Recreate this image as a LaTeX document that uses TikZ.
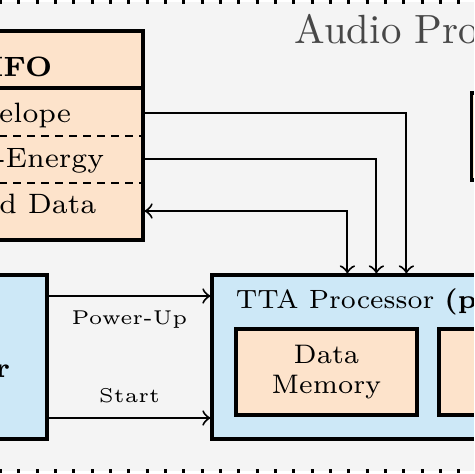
\documentclass[tikz,border=0pt]{standalone}
\usepackage{tikz}
\usepackage{xcolor}

\definecolor{peach}{HTML}{FDE3CB}
\definecolor{paleblue}{HTML}{CDE8F7}
\definecolor{panelgrey}{HTML}{F4F4F4}
\definecolor{titlegrey}{HTML}{474747}

\begin{document}
\begin{tikzpicture}[x=0.25pt,y=-0.25pt,
  blk/.style={draw,thick,inner sep=0pt},
  memblk/.style={blk,fill=peach},
  cpublk/.style={blk,fill=paleblue},
  sig/.style={line width=0.5pt,->},
  lbl/.style={font=\tiny,inner sep=0pt},
  dotline/.style={line width=0.8pt,dash pattern=on 0.75pt off 3.83pt}]

  \useasboundingbox (0,0) rectangle (474,474);
  \clip (0,0) rectangle (474,474);

  %% ---- Audio processing region ----
  \fill[panelgrey] (-60,2) rectangle (520,471);
  \draw[dotline] (-55.8,2) -- (520,2);
  \draw[dotline] (-55.8,471) -- (520,471);
  \node[font=\fontsize{10.2}{12}\selectfont,titlegrey,anchor=base west,inner sep=0pt] (title) at (294,43) {Audio Proc};

  %% ---- FIFO ----
  \node[memblk,minimum width=60pt,minimum height=52.25pt] (fifo) at (23,135.5) {};
  \draw[thick] (fifo.west |- 0,88) -- (fifo.east |- 0,88);
  \draw[line width=0.6pt,dash pattern=on 2pt off 1.5pt] (fifo.west |- 0,136) -- (fifo.east |- 0,136);
  \draw[line width=0.6pt,dash pattern=on 2pt off 1.5pt] (fifo.west |- 0,183) -- (fifo.east |- 0,183);
  \node[font=\scriptsize\bfseries,anchor=base east,inner sep=0pt] (fifohead) at (53,76) {IFO};
  \node[font=\scriptsize,anchor=base east,inner sep=0pt] (envrow) at (72,122) {elope};
  \node[font=\scriptsize,anchor=base east,inner sep=0pt] (energyrow) at (105,167) {-Energy};
  \node[font=\scriptsize,anchor=base east,inner sep=0pt] (datarow) at (97,213) {ed Data};

  % box at the top right
  \node[memblk,minimum width=29.5pt,minimum height=21.75pt] (topbox) at (530.5,136.5) {};

  %% ---- Controller and TTA processor ----
  \node[cpublk,minimum width=36.75pt,minimum height=41pt] (ctrl) at (-26.5,357) {};
  \node[font=\scriptsize\bfseries,anchor=base east,inner sep=0pt] (ctrltext) at (11,377) {r};

  \node[cpublk,minimum width=87pt,minimum height=41pt] (tta) at (386,357) {};
  \node[font=\fontsize{6.6}{7.5}\selectfont,anchor=base west,inner sep=0pt] (ttatext) at (235,308) {TTA Processor \textbf{(p}};
  \node[memblk,minimum width=45.25pt,minimum height=21.5pt,font=\fontsize{6.7}{7.5}\selectfont,align=center] (dmem) at (326.5,372) {Data\\Memory};
  \node[memblk,minimum width=40.5pt,minimum height=21.5pt] (nextmem) at (520,372) {};

  % control signals
  \draw[sig] (ctrl.east |- 0,296) -- (tta.west |- 0,296)
    node[lbl,midway,below=3.5pt] (pwrlbl) {Power-Up};
  \draw[sig] (ctrl.east |- 0,418) -- (tta.west |- 0,418)
    node[lbl,midway,above=3.5pt] (startlbl) {Start};

  % FIFO rows to the processor
  \draw[sig] (fifo.east |- 0,113) -| ([xshift=49pt]tta.north west);
  \draw[sig] (fifo.east |- 0,159) -| ([xshift=41.5pt]tta.north west);
  \draw[sig,<->] (fifo.east |- 0,211) -| ([xshift=34.25pt]tta.north west);

\end{tikzpicture}
\end{document}
